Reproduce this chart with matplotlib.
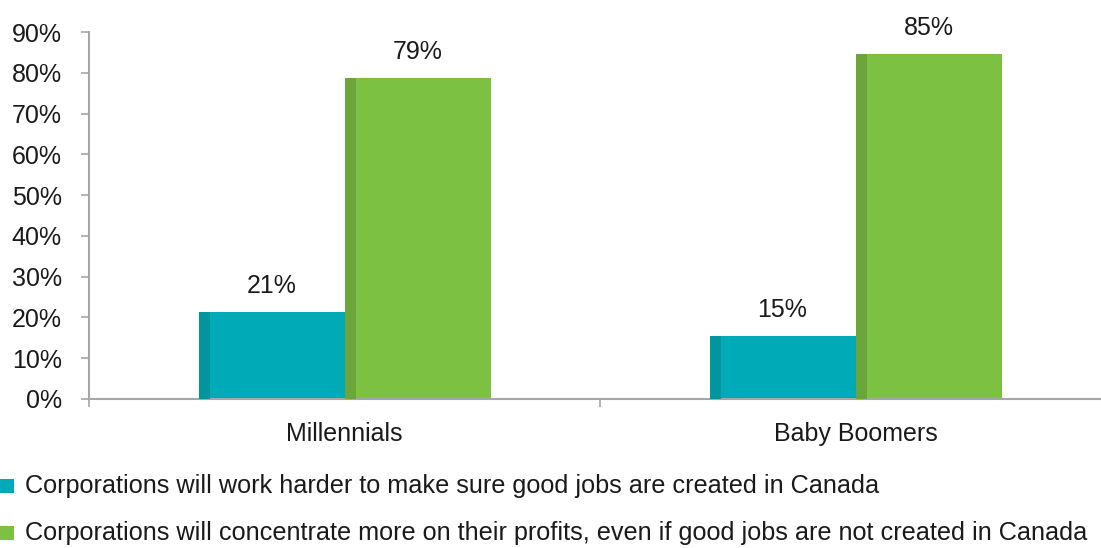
import matplotlib
matplotlib.use("Agg")
import matplotlib.pyplot as plt
from matplotlib.patches import Rectangle
import numpy as np

categories = ["Millennials", "Baby Boomers"]
series_names = [
    "Corporations will work harder to make sure good jobs are created in Canada",
    "Corporations will concentrate more on their profits, even if good jobs are not created in Canada",
]
harder = [21.4, 15.4]
profits = [78.6, 84.6]
labels_harder = ["21%", "15%"]
labels_profits = ["79%", "85%"]
yticks = [0, 10, 20, 30, 40, 50, 60, 70, 80, 90]

colors = ["#00AAB7", "#7DC142"]
dark = ["#00959F", "#6CA63A"]
axis_gray = "#A6A6A6"
txt = "#1a1a1a"

plt.rcParams["font.family"] = ["Liberation Sans", "DejaVu Sans"]

W, H = 1101, 548
PX = 72 / 100  # points per pixel
fig = plt.figure(figsize=(W / 100, H / 100), dpi=100)
left = 89 / W
bottom = (H - 399) / H
top = (H - 32) / H
width = 1022 / W
ax = fig.add_axes([left, bottom, width, top - bottom])

x = np.arange(len(categories))
bw = 146 / 511
strip = 11 / 511
for i, vals in enumerate([harder, profits]):
    pos = x - bw / 2 + i * bw
    ax.bar(pos, vals, width=bw, color=colors[i], linewidth=0, zorder=2)
    ax.bar(pos - bw / 2 + strip / 2, vals, width=strip, color=dark[i], linewidth=0, zorder=3)

for i, lbls in enumerate([labels_harder, labels_profits]):
    vals = [harder, profits][i]
    pos = x - bw / 2 + i * bw
    for p, v, t in zip(pos, vals, lbls):
        ax.annotate(t, (p, v), xytext=(0, 19 * PX), textcoords="offset points",
                    ha="center", va="baseline", fontsize=18, color=txt)

ax.set_xlim(-0.5, 1.5)
ax.set_ylim(0, 90)
ax.set_yticks(yticks)
ax.set_yticklabels([f"{t}%" for t in yticks], fontsize=18, color=txt)
ax.set_xticks(x)
ax.set_xticklabels(categories, fontsize=18, color=txt)
ax.tick_params(axis="x", length=0, pad=23 * PX)
ax.set_xticks([-0.5, 0.5, 1.5], minor=True)
ax.tick_params(axis="x", which="minor", length=8 * PX, color=axis_gray, width=1.2)
ax.tick_params(axis="y", length=8 * PX, color=axis_gray, width=1.2, pad=19 * PX)
for s in ["top", "right"]:
    ax.spines[s].set_visible(False)
for s in ["left", "bottom"]:
    ax.spines[s].set_color(axis_gray)
    ax.spines[s].set_linewidth(1.5)

# legend
rows_y = [486, 533]
for i, name in enumerate(series_names):
    yc = (H - rows_y[i]) / H
    sq = 14
    fig.patches.append(Rectangle((0 / W, yc - sq / 2 / H), sq / W, sq / H,
                                 transform=fig.transFigure, color=colors[i], linewidth=0))
    fig.text(25 / W, yc, name, fontsize=18.2, va="center", ha="left", color=txt)

fig.savefig("out.png", dpi=100)
